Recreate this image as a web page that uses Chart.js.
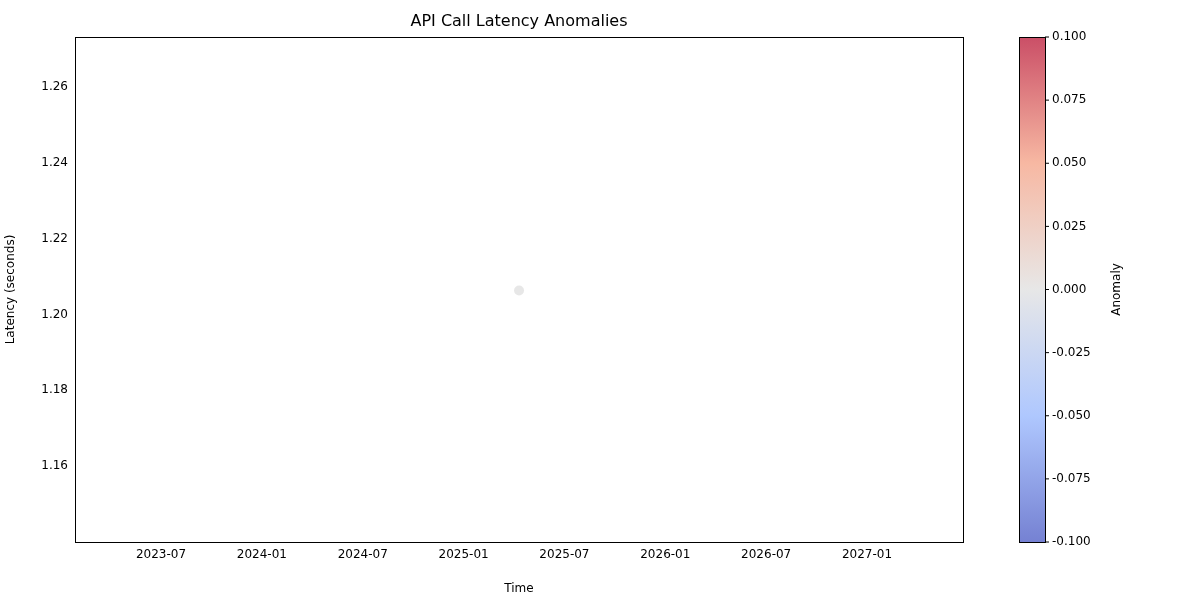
<!DOCTYPE html>
<html><head><meta charset="utf-8">
<script src="https://cdn.jsdelivr.net/npm/chart.js@4"></script>
<style>body{margin:0;background:#fff}#wrap{width:1200px;height:600px}</style>
</head><body><div id="wrap"><canvas id="c"></canvas></div>
<script>
// months counted from 2023-01
const tickMonths = [6, 12, 18, 24, 30, 36, 42, 48];
const tickLabels = ['2023-07', '2024-01', '2024-07', '2025-01', '2025-07', '2026-01', '2026-07', '2027-01'];
const pointMonths = [27.3];
const latencies = [1.2063];
const anomalies = [0];
const cbTicks = [-0.1, -0.075, -0.05, -0.025, 0, 0.025, 0.05, 0.075, 0.1];

const font = {family: 'DejaVu Sans', size: 12};
Chart.defaults.font = font;
Chart.defaults.color = '#000';

const coolwarm = [[59,76,192],[141,176,254],[221,221,221],[244,154,123],[180,4,38]];
function cw(t, a) {
  const p = t * 4, i = Math.min(3, Math.floor(p)), f = p - i;
  const c = coolwarm[i].map((v, k) => Math.round(v + (coolwarm[i+1][k] - v) * f));
  return `rgba(${c[0]},${c[1]},${c[2]},${a})`;
}

const extras = {
  id: 'extras',
  afterDraw(chart) {
    const {ctx, chartArea: a} = chart;
    ctx.save();
    ctx.strokeStyle = '#000'; ctx.lineWidth = 1;
    ctx.strokeRect(a.left + 0.5, a.top + 0.5, a.right - a.left, a.bottom - a.top);
    ctx.fillStyle = '#000';
    ctx.font = '16px DejaVu Sans';
    ctx.textAlign = 'center'; ctx.textBaseline = 'middle';
    ctx.fillText('API Call Latency Anomalies', (a.left + a.right) / 2, 22);
    // colorbar
    const x0 = 1019, w = 26, top = a.top, bot = a.bottom;
    const g = ctx.createLinearGradient(0, bot, 0, top);
    for (let i = 0; i <= 20; i++) g.addColorStop(i / 20, cw(i / 20, 0.7));
    ctx.fillStyle = g;
    ctx.fillRect(x0, top, w, bot - top);
    ctx.strokeRect(x0 + 0.5, top + 0.5, w, bot - top);
    ctx.font = '12px DejaVu Sans';
    ctx.textAlign = 'left';
    ctx.fillStyle = '#000';
    cbTicks.forEach(v => {
      const y = bot - (v + 0.1) / 0.2 * (bot - top);
      ctx.beginPath(); ctx.moveTo(x0 + w, y); ctx.lineTo(x0 + w + 4, y); ctx.stroke();
      ctx.fillText(v.toFixed(3), x0 + w + 7, y);
    });
    ctx.translate(1117, (top + bot) / 2);
    ctx.rotate(-Math.PI / 2);
    ctx.textAlign = 'center';
    ctx.fillText('Anomaly', 0, 0);
    ctx.restore();
  }
};

new Chart(document.getElementById('c'), {
  type: 'scatter',
  data: {datasets: [{
    data: pointMonths.map((m, i) => ({x: m, y: latencies[i]})),
    backgroundColor: anomalies.map(v => cw((v + 0.1) / 0.2, 0.7)),
    borderWidth: 0, pointRadius: 5
  }]},
  options: {
    responsive: true, maintainAspectRatio: false, animation: false,
    layout: {padding: {top: 37, right: 237, left: 0, bottom: 0}},
    plugins: {legend: {display: false}, tooltip: {enabled: false}},
    scales: {
      x: {
        type: 'linear', min: 0.884, max: 53.71,
        grid: {display: false, drawTicks: true, tickLength: 4, tickColor: '#000'},
        border: {color: '#000'},
        afterBuildTicks: s => { s.ticks = tickMonths.map(v => ({value: v})); },
        ticks: {maxRotation: 0, autoSkip: false, padding: 2, callback: v => tickLabels[tickMonths.indexOf(v)]},
        title: {display: true, text: 'Time', padding: {top: 4}},
        afterFit: s => { s.height = 58; }
      },
      y: {
        min: 1.13995, max: 1.2732,
        grid: {display: false, drawTicks: true, tickLength: 4, tickColor: '#000'},
        border: {color: '#000'},
        afterBuildTicks: s => { s.ticks = [1.16, 1.18, 1.2, 1.22, 1.24, 1.26].map(v => ({value: v})); },
        ticks: {padding: 3, callback: v => v.toFixed(2)},
        title: {display: true, text: 'Latency (seconds)', padding: {bottom: 6}},
        afterFit: s => { s.width = 75; }
      }
    }
  },
  plugins: [extras]
});
</script></body></html>
